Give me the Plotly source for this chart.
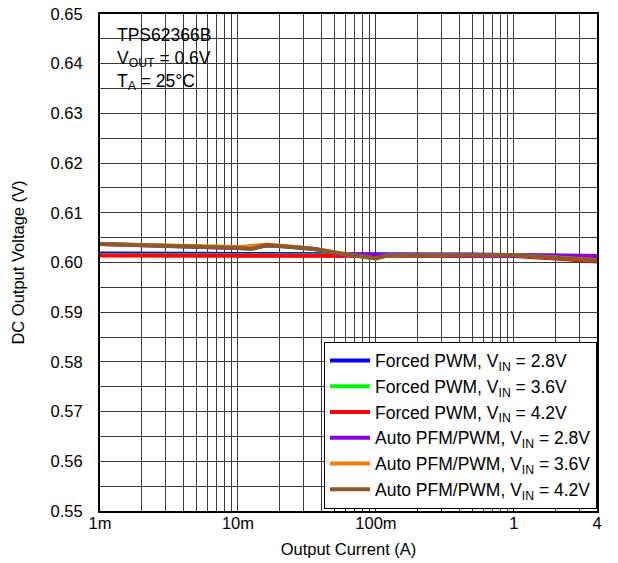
import plotly.graph_objects as go

# ---- data ----
current_fpwm = [0.001, 0.002, 0.005, 0.01, 0.02, 0.05, 0.1, 0.2, 0.5, 1.0, 2.0, 4.0]
fpwm_28 = [0.6018, 0.6018, 0.6018, 0.6018, 0.6018, 0.6017, 0.6016, 0.6016, 0.6016, 0.6015, 0.6014, 0.6013]
fpwm_36 = [0.6015, 0.6015, 0.6015, 0.6015, 0.6015, 0.6015, 0.6015, 0.6015, 0.6015, 0.6014, 0.6011, 0.6007]
fpwm_42 = [0.6014, 0.6014, 0.6014, 0.6014, 0.6014, 0.6014, 0.6014, 0.6014, 0.6014, 0.6013, 0.6008, 0.6002]

current_pfm = [0.001, 0.002, 0.004, 0.008, 0.0105, 0.0125, 0.016, 0.02, 0.036, 0.056, 0.1, 0.12, 0.2, 0.5, 1.0, 2.0, 4.0]
pfm_28 = [0.6037, 0.6035, 0.6033, 0.6031, 0.6030, 0.6028, 0.6034, 0.6033, 0.6027, 0.6016, 0.6015, 0.6015, 0.6015, 0.6015, 0.6015, 0.6014, 0.6013]
pfm_36 = [0.6037, 0.6035, 0.6033, 0.6031, 0.6031, 0.6033, 0.6036, 0.6034, 0.6027, 0.6018, 0.6008, 0.6014, 0.6015, 0.6015, 0.6015, 0.6010, 0.6005]
pfm_42 = [0.6037, 0.6035, 0.6032, 0.6030, 0.6029, 0.6027, 0.6035, 0.6033, 0.6027, 0.6018, 0.6008, 0.6014, 0.6015, 0.6015, 0.6015, 0.6010, 0.6004]

x_tickvals = [0.001, 0.01, 0.1, 1, 4]
x_ticktext = ["1m", "10m", "100m", "1", "4"]

series = [
    ("Forced PWM, V<sub>IN</sub> = 2.8V", current_fpwm, fpwm_28, "#0000FF"),
    ("Forced PWM, V<sub>IN</sub> = 3.6V", current_fpwm, fpwm_36, "#00FF00"),
    ("Forced PWM, V<sub>IN</sub> = 4.2V", current_fpwm, fpwm_42, "#FF0000"),
    ("Auto PFM/PWM, V<sub>IN</sub> = 2.8V", current_pfm, pfm_28, "#8B00D8"),
    ("Auto PFM/PWM, V<sub>IN</sub> = 3.6V", current_pfm, pfm_36, "#F07D10"),
    ("Auto PFM/PWM, V<sub>IN</sub> = 4.2V", current_pfm, pfm_42, "#8B5A2B"),
]

FONT = "Liberation Sans, Arial, sans-serif"
GRID = "#3a3a3a"

fig = go.Figure()
for name, xs, ys, col in series:
    fig.add_trace(go.Scatter(x=xs, y=ys, mode="lines", name=name,
                             line=dict(color=col, width=4)))

minor_x = [m * 10 ** e for e in range(-3, 1) for m in range(2, 10) if m * 10 ** e < 4]

fig.update_layout(
    width=618, height=563,
    margin=dict(l=100, r=21, t=14, b=52),
    paper_bgcolor="white", plot_bgcolor="white",
    font=dict(family=FONT, size=16.5, color="black"),
    showlegend=True,
    legend=dict(x=1, xanchor="right", y=0.005, yanchor="bottom",
                bgcolor="white", bordercolor="black", borderwidth=1,
                font=dict(family=FONT, size=17.5, color="black"),
                itemwidth=40, tracegroupgap=0),
    xaxis=dict(type="log", range=[-3, 0.60206], automargin=False,
               tickmode="array", tickvals=x_tickvals, ticktext=x_ticktext,
               showgrid=True, gridcolor=GRID, gridwidth=1,
               minor=dict(tickmode="array", tickvals=minor_x, showgrid=True,
                          gridcolor=GRID, gridwidth=1),
               showline=True, linecolor="black", linewidth=2, mirror=True,
               ticks="", zeroline=False, ticklabelstandoff=-4,
               title=dict(text="Output Current (A)", standoff=13,
                          font=dict(size=16.5))),
    yaxis=dict(range=[0.55, 0.65], dtick=0.01, tick0=0.55, tickformat=".2f",
               automargin=False,
               showgrid=True, gridcolor=GRID, gridwidth=1,
               minor=dict(dtick=0.005, showgrid=True, gridcolor=GRID, gridwidth=1),
               showline=True, linecolor="black", linewidth=2, mirror=True,
               ticks="", zeroline=False, ticklabelstandoff=12,
               title=dict(text="DC Output Voltage (V)", standoff=22,
                          font=dict(size=16.5))),
)

# white box behind the device/conditions note
fig.add_shape(type="rect", xref="paper", yref="paper",
              x0=0, x1=0.246, y0=0.825, y1=1,
              fillcolor="white", line=dict(width=0), layer="between")

fig.add_annotation(
    xref="paper", yref="paper", x=0.03, y=0.981, xanchor="left", yanchor="top",
    text="TPS62366B<br>V<sub>OUT</sub> = 0.6V<br>T<sub>A</sub> = 25°C",
    showarrow=False, align="left",
    font=dict(family=FONT, size=17.5, color="black"))

fig.write_html("out.html")
